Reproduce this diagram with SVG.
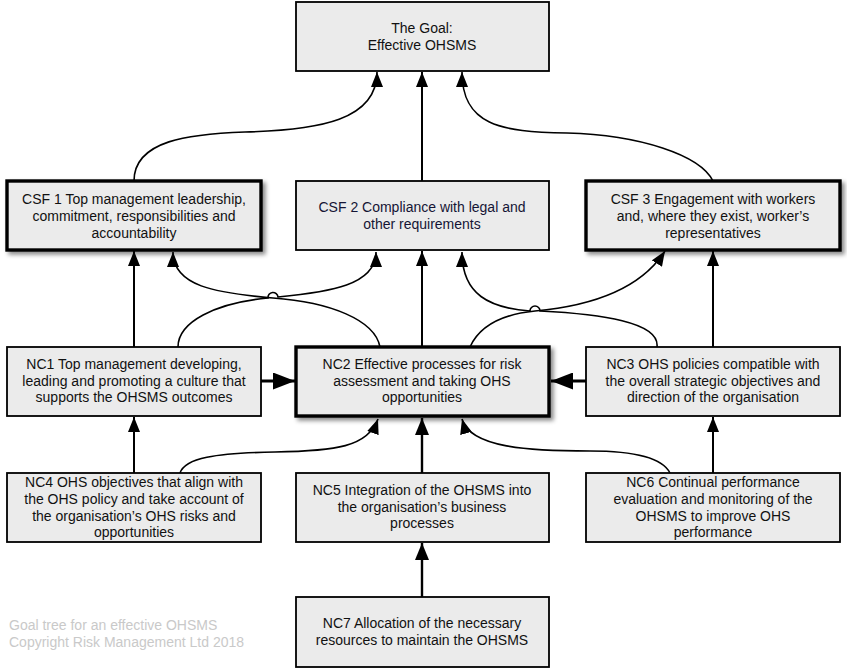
<svg xmlns="http://www.w3.org/2000/svg" width="847" height="669" viewBox="0 0 847 669">
<defs>
<style>
.box{fill:#ebebeb;stroke:#000;stroke-width:1.8}
.bold{fill:#ebebeb;stroke:#000;stroke-width:3.4}
.t{font-family:"Liberation Sans",Arial,sans-serif;font-size:14px;fill:#111;text-anchor:middle}
.t2{font-family:"Liberation Sans",Arial,sans-serif;font-size:14px;fill:#151535;text-anchor:middle}
.foot{font-family:"Liberation Sans",Arial,sans-serif;font-size:14px;fill:#c9c9c9}
.ln{fill:none;stroke:#000;stroke-width:2}
.cv{fill:none;stroke:#000;stroke-width:1.6}
.hz{fill:none;stroke:#000;stroke-width:3.2}
</style>
<filter id="sh" x="-10%" y="-10%" width="125%" height="135%">
<feDropShadow dx="3" dy="3" stdDeviation="2" flood-color="#000" flood-opacity="0.45"/>
</filter>
<marker id="a" markerUnits="userSpaceOnUse" markerWidth="15" markerHeight="12" refX="15" refY="6" orient="auto">
<path d="M0,0 L15,6 L0,12 z" fill="#000"/>
</marker>
<marker id="m" markerUnits="userSpaceOnUse" markerWidth="17" markerHeight="14" refX="17" refY="7" orient="auto">
<path d="M0,0 L17,7 L0,14 z" fill="#000"/>
</marker>
<marker id="b" markerUnits="userSpaceOnUse" markerWidth="22" markerHeight="17" refX="22" refY="8.5" orient="auto">
<path d="M0,0 L22,8.5 L0,17 z" fill="#000"/>
</marker>
</defs>
<rect width="847" height="669" fill="#fff"/>

<g id="connectors">
<path class="ln" d="M422,181 L422,72" marker-end="url(#a)"/>
<path class="cv" d="M134,181 C134,140 190,134 245,132 C320,130 377,120 377,72" marker-end="url(#a)"/>
<path class="cv" d="M713,181 C700,155 640,135 567,133 C500,132 462,125 462,72" marker-end="url(#a)"/>
<path class="ln" d="M134,347 L134,251" marker-end="url(#a)"/>
<path class="ln" d="M422,347 L422,251" marker-end="url(#a)"/>
<path class="ln" d="M713,347 L713,251" marker-end="url(#a)"/>
<path class="cv" d="M380,347 C375,320 330,302 273,298 C215,293 173,286 173,252" marker-end="url(#a)"/>
<path class="cv" d="M178,347 C178,322 215,303 268,298 A5,5 0 0 1 278,297 C330,292 376,285 376,252" marker-end="url(#a)"/>
<path class="cv" d="M470,347 C480,325 505,314 535,311 C590,306 640,290 665,251" marker-end="url(#a)"/>
<path class="cv" d="M657,347 C660,322 600,314 540,311 A5,5 0 0 0 530,311 C490,308 462,295 462,252" marker-end="url(#a)"/>
<path class="hz" d="M261,381 L295,381" marker-end="url(#b)"/>
<path class="hz" d="M586,381 L551,381" marker-end="url(#b)"/>
<path class="ln" d="M134,473 L134,417" marker-end="url(#a)"/>
<path class="ln" d="M713,473 L713,417" marker-end="url(#a)"/>
<path class="hz" style="stroke-width:2.4" d="M422,473 L422,418" marker-end="url(#m)"/>
<path class="cv" d="M180,473 C185,458 215,453 275,452 C335,451 368,447 378,419" marker-end="url(#a)"/>
<path class="cv" d="M670,473 C662,457 630,451 590,451 C530,451 470,448 462,419" marker-end="url(#a)"/>
<path class="hz" style="stroke-width:2.4" d="M422,597 L422,543" marker-end="url(#m)"/>
</g>

<g id="goal">
<rect class="box" x="296" y="2" width="253" height="69"/>
<text class="t" x="422" y="33">The Goal:</text>
<text class="t" x="422" y="50">Effective OHSMS</text>
</g>

<g id="csf1">
<rect class="bold" x="7" y="181" width="254" height="69" filter="url(#sh)"/>
<text class="t" x="134" y="204">CSF 1 Top management leadership,</text>
<text class="t" x="134" y="221">commitment, responsibilities and</text>
<text class="t" x="134" y="238">accountability</text>
</g>

<g id="csf2">
<rect class="box" x="296" y="181" width="253" height="69"/>
<text class="t2" x="422" y="212">CSF 2 Compliance with legal and</text>
<text class="t2" x="422" y="229">other requirements</text>
</g>

<g id="csf3">
<rect class="bold" x="586" y="181" width="254" height="69" filter="url(#sh)"/>
<text class="t" x="713" y="204">CSF 3 Engagement with workers</text>
<text class="t" x="713" y="221">and, where they exist, worker’s</text>
<text class="t" x="713" y="238">representatives</text>
</g>

<g id="nc1">
<rect class="box" x="7" y="347" width="254" height="69"/>
<text class="t" x="134" y="369">NC1 Top management developing,</text>
<text class="t" x="134" y="386">leading and promoting a culture that</text>
<text class="t" x="134" y="402">supports the OHSMS outcomes</text>
</g>

<g id="nc2">
<rect class="bold" x="296" y="347" width="253" height="69" filter="url(#sh)"/>
<text class="t" x="422" y="369">NC2 Effective processes for risk</text>
<text class="t" x="422" y="386">assessment and taking OHS</text>
<text class="t" x="422" y="402">opportunities</text>
</g>

<g id="nc3">
<rect class="box" x="586" y="347" width="254" height="69"/>
<text class="t" x="713" y="369">NC3 OHS policies compatible with</text>
<text class="t" x="713" y="386">the overall strategic objectives and</text>
<text class="t" x="713" y="402">direction of the organisation</text>
</g>

<g id="nc4">
<rect class="box" x="7" y="473" width="254" height="69"/>
<text class="t" x="134" y="487">NC4 OHS objectives that align with</text>
<text class="t" x="134" y="504">the OHS policy and take account of</text>
<text class="t" x="134" y="521">the organisation’s OHS risks and</text>
<text class="t" x="134" y="537">opportunities</text>
</g>

<g id="nc5">
<rect class="box" x="296" y="473" width="253" height="69"/>
<text class="t" x="422" y="495">NC5 Integration of the OHSMS into</text>
<text class="t" x="422" y="512">the organisation’s business</text>
<text class="t" x="422" y="528">processes</text>
</g>

<g id="nc6">
<rect class="box" x="586" y="473" width="254" height="69"/>
<text class="t" x="713" y="487">NC6 Continual performance</text>
<text class="t" x="713" y="504">evaluation and monitoring of the</text>
<text class="t" x="713" y="521">OHSMS to improve OHS</text>
<text class="t" x="713" y="537">performance</text>
</g>

<g id="nc7">
<rect class="box" x="296" y="597" width="253" height="70"/>
<text class="t" x="422" y="628">NC7 Allocation of the necessary</text>
<text class="t" x="422" y="645">resources to maintain the OHSMS</text>
</g>

<g id="footer">
<text class="foot" x="9" y="630">Goal tree for an effective OHSMS</text>
<text class="foot" x="9" y="647">Copyright Risk Management Ltd 2018</text>
</g>
</svg>
